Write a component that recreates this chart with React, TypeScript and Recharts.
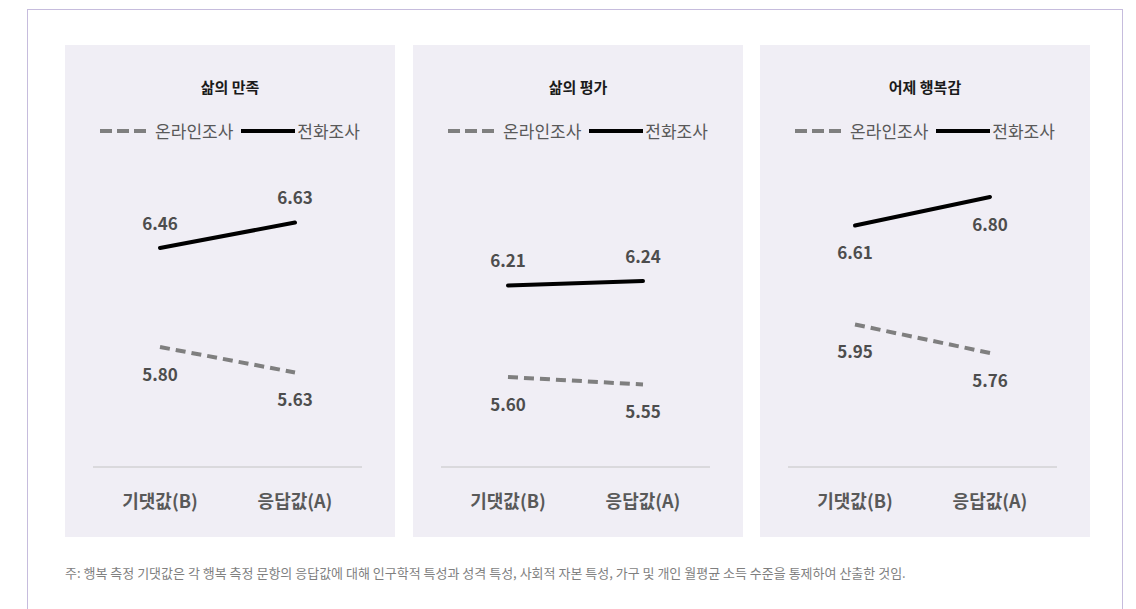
import React from 'react';
import { LineChart, Line, XAxis, YAxis } from 'recharts';

// Survey comparison: expected value (B) vs response value (A)
const categories = ['기댓값(B)', '응답값(A)'];
const panelTitles = ['삶의 만족', '삶의 평가', '어제 행복감'];
const seriesNames = ['온라인조사', '전화조사'];

const onlineSatisfaction = [5.80, 5.63];
const phoneSatisfaction = [6.46, 6.63];
const onlineEvaluation = [5.60, 5.55];
const phoneEvaluation = [6.21, 6.24];
const onlineYesterday = [5.95, 5.76];
const phoneYesterday = [6.61, 6.80];

const yDomain = [5, 7];

const footnote =
  '주: 행복 측정 기댓값은 각 행복 측정 문항의 응답값에 대해 인구학적 특성과 성격 특성, 사회적 자본 특성, 가구 및 개인 월평균 소득 수준을 통제하여 산출한 것임.';

const FONT = "'Noto Sans CJK KR', 'Noto Sans', sans-serif";
const PANEL_BG = '#f0eef5';
const TEXT_GRAY = '#595959';
const DASH_GRAY = '#7f7f7f';

type LabelPos = 'top' | 'bottom';

interface PanelProps {
  title: string;
  online: number[];
  phone: number[];
  onlinePos: LabelPos;
  phonePos: LabelPos;
  left: number;
}

const makeLabel = (pos: LabelPos) => (props: any) => {
  const { x = 0, y = 0, value, index } = props;
  if (value === undefined) return null;
  return (
    <text
      key={`lbl-${index}`}
      x={x}
      y={pos === 'top' ? y - 26 : y + 26}
      textAnchor="middle"
      dominantBaseline="central"
      fill="#4d4d4d"
      fontFamily={FONT}
      fontWeight={700}
      fontSize={17}
    >
      {Number(value).toFixed(2)}
    </text>
  );
};

const CategoryTick = (props: any) => {
  const { x = 0, y = 0, payload } = props;
  return (
    <text
      x={x}
      y={y + 33}
      textAnchor="middle"
      dominantBaseline="central"
      fill={TEXT_GRAY}
      fontFamily={FONT}
      fontWeight={700}
      fontSize={18}
    >
      {payload.value}
    </text>
  );
};

const PanelLegend: React.FC = () => (
  <div style={{ position: 'absolute', top: 76, left: 0, width: 330, display: 'flex', justifyContent: 'center', alignItems: 'center', fontFamily: FONT, fontSize: 17, color: TEXT_GRAY, lineHeight: '20px' }}>
    <svg width={47} height={8}>
      <line x1={0} y1={4} x2={47} y2={4} stroke={DASH_GRAY} strokeWidth={4} strokeDasharray="12 5" />
    </svg>
    <span style={{ marginLeft: 8 }}>{seriesNames[0]}</span>
    <svg width={54} height={8} style={{ marginLeft: 8 }}>
      <line x1={0} y1={4} x2={54} y2={4} stroke="#000" strokeWidth={4} />
    </svg>
    <span style={{ marginLeft: 2 }}>{seriesNames[1]}</span>
  </div>
);

const Panel: React.FC<PanelProps> = ({ title, online, phone, onlinePos, phonePos, left }) => {
  const data = categories.map((c, i) => ({ name: c, online: online[i], phone: phone[i] }));
  return (
    <div style={{ position: 'absolute', left, top: 45, width: 330, height: 492, background: PANEL_BG }}>
      <div style={{ position: 'absolute', top: 32, left: 0, width: 330, textAlign: 'center', fontFamily: FONT, fontWeight: 700, fontSize: 15, color: '#1a1a1a', lineHeight: '20px' }}>
        {title}
      </div>
      <PanelLegend />
      <LineChart width={330} height={492} data={data} margin={{ top: 122, right: 33, bottom: 30, left: 28 }}>
        <XAxis
          dataKey="name"
          height={40}
          padding={{ left: 67, right: 67 }}
          axisLine={{ stroke: '#c4c4c4', strokeWidth: 1 }}
          tickLine={false}
          tickSize={0}
          tickMargin={0}
          tick={<CategoryTick />}
        />
        <YAxis hide domain={yDomain} />
        <Line
          dataKey="online"
          stroke={DASH_GRAY}
          strokeWidth={4}
          strokeDasharray="10 6"
          dot={false}
          isAnimationActive={false}
          label={makeLabel(onlinePos)}
        />
        <Line
          dataKey="phone"
          stroke="#000"
          strokeWidth={4}
          strokeLinecap="round"
          dot={false}
          isAnimationActive={false}
          label={makeLabel(phonePos)}
        />
      </LineChart>
    </div>
  );
};

const App: React.FC = () => (
  <div style={{ position: 'relative', width: 1136, height: 609, overflow: 'hidden', background: '#fff' }}>
    <style>{'body{margin:0}'}</style>
    <div style={{ position: 'absolute', left: 27, top: 9, width: 1094, height: 640, border: '1.5px solid #c6bcdd' }} />
    <Panel title={panelTitles[0]} online={onlineSatisfaction} phone={phoneSatisfaction} onlinePos="bottom" phonePos="top" left={65} />
    <Panel title={panelTitles[1]} online={onlineEvaluation} phone={phoneEvaluation} onlinePos="bottom" phonePos="top" left={413} />
    <Panel title={panelTitles[2]} online={onlineYesterday} phone={phoneYesterday} onlinePos="bottom" phonePos="bottom" left={760} />
    <div style={{ position: 'absolute', left: 65, top: 564, fontFamily: FONT, fontSize: 13, color: '#7f7f7f', lineHeight: '18px', whiteSpace: 'nowrap' }}>
      {footnote}
    </div>
  </div>
);

export default App;
